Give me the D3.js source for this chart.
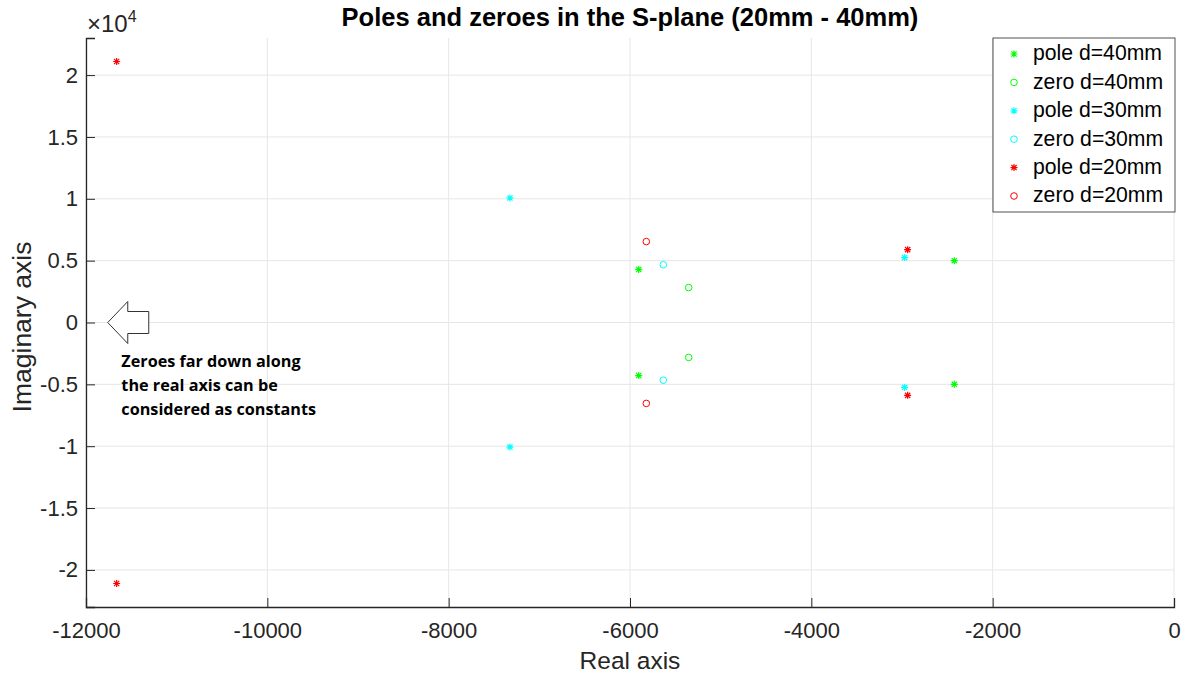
<!DOCTYPE html>
<html>
<head>
<meta charset="utf-8">
<script src="https://cdn.jsdelivr.net/npm/d3@7"></script>
<style>
  body { margin: 0; background: #fff; }
  svg { display: block; }
</style>
</head>
<body>
<div id="chart"></div>
<script>
// values (real part, imaginary part)
const pole40Re = [-2423, -2423, -5904, -5904];
const pole40Im = [5000, -5000, 4290, -4290];
const zero40Re = [-5353, -5353];
const zero40Im = [2825, -2825];
const pole30Re = [-2971, -2971, -7324, -7324];
const pole30Im = [5245, -5245, 10070, -10070];
const zero30Re = [-5633, -5633];
const zero30Im = [4665, -4665];
const pole20Re = [-2938, -2938, -11662, -11662];
const pole20Im = [5890, -5890, 21100, -21100];
const zero20Re = [-5820, -5820];
const zero20Im = [6540, -6540];

const xTicks = [-12000, -10000, -8000, -6000, -4000, -2000, 0];
const yTicks = [-20000, -15000, -10000, -5000, 0, 5000, 10000, 15000, 20000];

const seriesNames = ["pole d=40mm", "zero d=40mm", "pole d=30mm", "zero d=30mm", "pole d=20mm", "zero d=20mm"];
const seriesColors = ["#00ff00", "#00ff00", "#00ffff", "#00ffff", "#ff0000", "#ff0000"];
const seriesKinds = ["pole", "zero", "pole", "zero", "pole", "zero"];
const seriesRe = [pole40Re, zero40Re, pole30Re, zero30Re, pole20Re, zero20Re];
const seriesIm = [pole40Im, zero40Im, pole30Im, zero30Im, pole20Im, zero20Im];

const noteLines = ["Zeroes far down along", "the real axis can be", "considered as constants"];

const W = 1181, H = 675;
const margin = {top: 38, right: 7, bottom: 68, left: 86};
const iw = W - margin.left - margin.right;
const ih = H - margin.top - margin.bottom;
const axisColor = "#262626";

const x = d3.scaleLinear().domain([-12000, 0]).range([0, iw]);
const y = d3.scaleLinear().domain([-23000, 23000]).range([ih, 0]);

const svg = d3.select("#chart").append("svg")
  .attr("width", W).attr("height", H)
  .style("font-family", "'Liberation Sans', Arial, sans-serif");

const g = svg.append("g").attr("transform", `translate(${margin.left},${margin.top})`);

// grid
g.append("g").selectAll("line").data(xTicks).join("line")
  .attr("x1", d => x(d)).attr("x2", d => x(d))
  .attr("y1", 0).attr("y2", ih)
  .attr("stroke", "#e6e6e6").attr("stroke-width", 1);
g.append("g").selectAll("line").data(yTicks).join("line")
  .attr("x1", 0).attr("x2", iw)
  .attr("y1", d => y(d)).attr("y2", d => y(d))
  .attr("stroke", "#e6e6e6").attr("stroke-width", 1);

// axes, ticks pointing inward like matlab
const xAxis = g.append("g").attr("transform", `translate(0,${ih})`)
  .call(d3.axisBottom(x).tickValues(xTicks).tickSize(-9).tickPadding(15).tickFormat(d => String(d)));
const yAxis = g.append("g")
  .call(d3.axisLeft(y).tickValues(yTicks).tickSize(-9).tickPadding(8).tickFormat(d => String(d / 10000)));
[xAxis, yAxis].forEach(a => {
  a.select(".domain").attr("stroke", axisColor).attr("stroke-width", 1.3);
  a.selectAll(".tick line").attr("stroke", axisColor).attr("stroke-width", 1);
  a.selectAll(".tick text").attr("fill", axisColor)
    .style("font-size", "22px").style("font-family", "'Liberation Sans', Arial, sans-serif");
});
xAxis.selectAll(".tick text").attr("dy", "0.71em");

// exponent label
const ex = svg.append("text").attr("x", margin.left + 1).attr("y", 32)
  .attr("fill", axisColor).style("font-size", "24px");
ex.append("tspan").text("\u00d710");
ex.append("tspan").attr("dy", -10).style("font-size", "16px").text("4");

// title and axis labels
svg.append("text").attr("x", margin.left + iw / 2).attr("y", 26)
  .attr("text-anchor", "middle").attr("font-weight", "bold")
  .style("font-size", "25.5px").attr("fill", "#000")
  .text("Poles and zeroes in the S-plane (20mm - 40mm)");
svg.append("text").attr("x", margin.left + iw / 2).attr("y", 669)
  .attr("text-anchor", "middle").style("font-size", "24.5px").attr("fill", axisColor)
  .text("Real axis");
svg.append("text").attr("transform", `translate(31,327) rotate(-90)`)
  .attr("text-anchor", "middle").style("font-size", "26.5px").attr("fill", axisColor)
  .text("Imaginary axis");

// markers
function drawMarker(sel, kind, color) {
  if (kind === "pole") {
    const s = 3.5, t = 2.6;
    sel.append("path")
      .attr("d", `M${-s},0H${s}M0,${-s}V${s}M${-t},${-t}L${t},${t}M${-t},${t}L${t},${-t}`)
      .attr("stroke", color).attr("stroke-width", 1.2).attr("fill", "none");
  } else {
    sel.append("circle").attr("r", 3.3)
      .attr("stroke", color).attr("stroke-width", 1).attr("fill", "none");
  }
}

seriesRe.forEach((re, i) => {
  re.forEach((v, j) => {
    const m = g.append("g").attr("transform", `translate(${x(v)},${y(seriesIm[i][j])})`);
    drawMarker(m, seriesKinds[i], seriesColors[i]);
  });
});

// hollow arrow pointing left at the origin of the imaginary axis
const ax0 = x(-11760), ay0 = y(0);
const arrow = [[0, 0], [20, -21], [20, -11], [41, -11], [41, 11], [20, 11], [20, 21]];
g.append("path")
  .attr("d", d3.line()(arrow.map(p => [ax0 + p[0], ay0 + p[1]])) + "Z")
  .attr("fill", "#fff").attr("stroke", "#333").attr("stroke-width", 1);

const note = g.append("text").attr("x", x(-11610)).attr("y", y(-3050) + 7)
  .attr("font-weight", "bold").style("font-size", "16.2px")
  .style("font-family", "'Open Sans', 'Noto Sans', sans-serif").attr("fill", "#000");
noteLines.forEach((l, i) => note.append("tspan").attr("x", x(-11610)).attr("dy", i ? 24 : 0).text(l));

// legend
const lg = svg.append("g").attr("transform", "translate(993,38)");
lg.append("rect").attr("width", 182).attr("height", 174)
  .attr("fill", "#fff").attr("stroke", "#262626").attr("stroke-width", 0.8);
seriesNames.forEach((name, i) => {
  const row = lg.append("g").attr("transform", `translate(0,${16 + i * 28.4})`);
  drawMarker(row.append("g").attr("transform", "translate(21,0)"), seriesKinds[i], seriesColors[i]);
  row.append("text").attr("x", 40).attr("dy", "0.3em")
    .style("font-size", "21.2px").attr("fill", "#000").text(name);
});
</script>
</body>
</html>
